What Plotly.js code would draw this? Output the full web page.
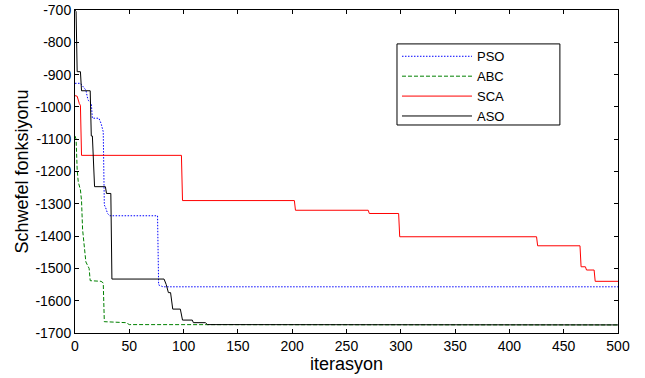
<!DOCTYPE html>
<html>
<head>
<meta charset="utf-8">
<script src="https://cdn.plot.ly/plotly-3.0.1.min.js"></script>
<style>html,body{margin:0;padding:0;background:#fff}#chart{width:645px;height:378px}</style>
</head>
<body>
<div id="chart"></div>
<script>
// Iteration / value pairs (step curves)
const psoIter = [0, 5, 10, 12, 15, 16, 22, 24, 26, 27, 28, 30, 32, 76, 77, 81, 500];
const psoVal  = [-927, -927, -948, -979, -989, -1035, -1035, -1051, -1077, -1304, -1310, -1330, -1337, -1337, -1551, -1557, -1557];

const abcIter = [0, 1, 2, 3, 5, 6, 7, 10, 13, 14, 24, 26, 27, 47, 50, 500];
const abcVal  = [-1090, -1100, -1195, -1232, -1257, -1290, -1380, -1480, -1500, -1538, -1540, -1545, -1665, -1668, -1674, -1675];

const scaIter = [0, 2, 4, 5, 6, 98, 99, 202, 203, 270, 271, 298, 299, 425, 426, 465, 466, 470, 471, 478, 479, 500];
const scaVal  = [-965, -967, -990, -995, -1150, -1150, -1290, -1290, -1320, -1320, -1330, -1330, -1402, -1402, -1430, -1430, -1495, -1495, -1505, -1505, -1540, -1540];

const asoIter = [0, 1, 2, 5, 6, 14, 15, 16, 18, 28, 29, 33, 34, 82, 84, 86, 88, 90, 97, 99, 108, 109, 120, 122, 500];
const asoVal  = [-700, -705, -891, -891, -950, -950, -1090, -1090, -1247, -1247, -1268, -1268, -1533, -1533, -1550, -1575, -1575, -1626, -1626, -1660, -1660, -1668, -1668, -1674, -1675];

const seriesNames = ['PSO', 'ABC', 'SCA', 'ASO'];
const xTicks = [0, 50, 100, 150, 200, 250, 300, 350, 400, 450, 500];
const yTicks = [-1700, -1600, -1500, -1400, -1300, -1200, -1100, -1000, -900, -800, -700];

const FONT = '"Liberation Sans", Arial, Helvetica, sans-serif';

const traces = [
  {x: psoIter, y: psoVal, name: seriesNames[0], line: {color: '#0000ff', width: 1, dash: '1.5px,1.5px'}},
  {x: abcIter, y: abcVal, name: seriesNames[1], line: {color: '#008000', width: 1, dash: '4px,2px'}},
  {x: scaIter, y: scaVal, name: seriesNames[2], line: {color: '#ff0000', width: 1}},
  {x: asoIter, y: asoVal, name: seriesNames[3], line: {color: '#000000', width: 1}}
].map(t => Object.assign({type: 'scatter', mode: 'lines'}, t));

const axisCommon = {
  showgrid: false, zeroline: false, showline: true, linecolor: '#000', linewidth: 1,
  mirror: 'ticks', ticks: 'inside', ticklen: 4, tickcolor: '#000', tickwidth: 1,
  tickfont: {family: FONT, size: 14, color: '#000'}
};

const layout = {
  width: 645, height: 378,
  margin: {l: 75, r: 27, t: 10, b: 45},
  paper_bgcolor: '#fff', plot_bgcolor: '#fff',
  font: {family: FONT, color: '#000'},
  xaxis: Object.assign({}, axisCommon, {
    range: [0, 500], tickvals: xTicks, ticktext: xTicks.map(String),
    title: {text: 'iterasyon', font: {family: FONT, size: 18, color: '#000'}, standoff: 0}
  }),
  yaxis: Object.assign({}, axisCommon, {
    range: [-1700, -700], tickvals: yTicks, ticktext: yTicks.map(String),
    title: {text: 'Schwefel fonksiyonu', font: {family: FONT, size: 18, color: '#000'}, standoff: 2}
  }),
  // legend frame (decoration only), drawn over the curves
  shapes: [{
    type: 'rect', xref: 'paper', yref: 'paper', layer: 'above',
    x0: 0.593, x1: 0.893, y0: 0.644, y1: 0.895,
    line: {color: '#000', width: 1}, fillcolor: '#fff'
  }],
  showlegend: true,
  legend: {
    x: 0.593, y: 0.903, xanchor: 'left', yanchor: 'top',
    bgcolor: 'rgba(0,0,0,0)', borderwidth: 0,
    font: {family: FONT, size: 13, color: '#000'},
    itemwidth: 70, tracegroupgap: 0
  }
};

Plotly.newPlot('chart', traces, layout, {staticPlot: true, displayModeBar: false});
</script>
</body>
</html>
